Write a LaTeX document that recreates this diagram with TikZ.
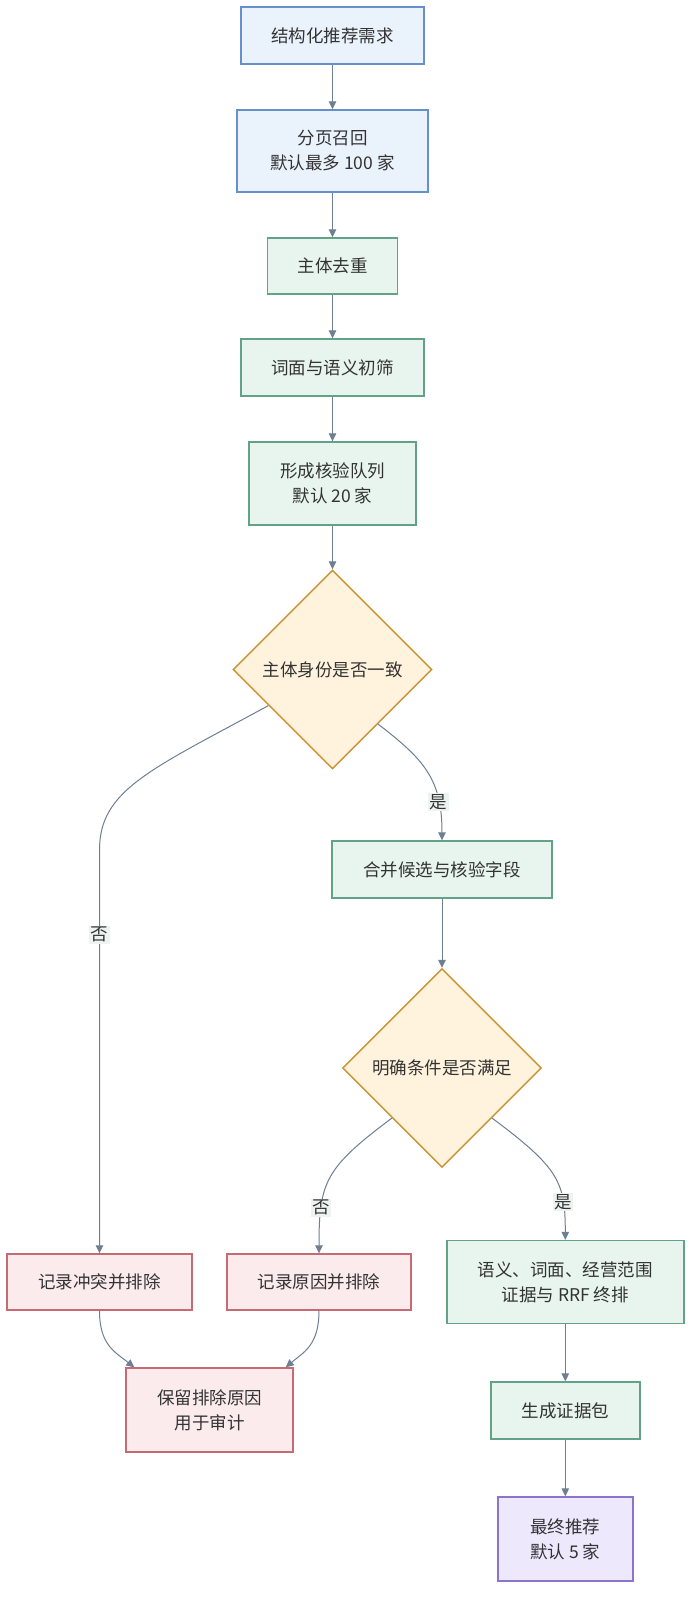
\documentclass[tikz,border=0pt]{standalone}
\usepackage{fontspec}
\setmainfont{Noto Sans CJK SC}
\usetikzlibrary{arrows.meta, shapes.geometric, positioning, calc}
\definecolor{inkgray}{HTML}{333333}
\definecolor{flowgray}{HTML}{6E7F91}
\definecolor{lblbg}{HTML}{EDF3F0}
\definecolor{bluefill}{HTML}{EAF2FC}
\definecolor{blueline}{HTML}{6690CC}
\definecolor{greenfill}{HTML}{E8F5EF}
\definecolor{greenline}{HTML}{62A287}
\definecolor{yellowfill}{HTML}{FFF3DD}
\definecolor{yellowline}{HTML}{C99232}
\definecolor{redfill}{HTML}{FBEBEC}
\definecolor{redline}{HTML}{C66A74}
\definecolor{purplefill}{HTML}{EEE8FD}
\definecolor{purpleline}{HTML}{8E73CC}

\begin{document}
\begin{tikzpicture}[x=1pt, y=-1pt,
    every node/.style={font=\fontsize{17.5}{25}\selectfont, text=inkgray, align=center},
    card/.style={rectangle, line width=1.4pt, inner sep=0pt},
    bluebox/.style={card, draw=blueline, fill=bluefill},
    greenbox/.style={card, draw=greenline, fill=greenfill},
    redbox/.style={card, draw=redline, fill=redfill},
    purplebox/.style={card, draw=purpleline, fill=purplefill},
    decision/.style={diamond, aspect=1, draw=yellowline, fill=yellowfill, line width=1.4pt,
      inner sep=0pt, minimum width=199pt, minimum height=199pt},
    flow/.style={draw=flowgray, line width=1pt, -{Triangle[length=8pt, width=7.5pt]}},
    edgelbl/.style={fill=lblbg, inner sep=1.5pt}]

    % page
    \fill[white] (0,0) rectangle (700,1607);
    \useasboundingbox (0,0) rectangle (700,1607);

    % main column
    \node[bluebox, minimum width=183pt, minimum height=57pt] (req) at (332.5,35.5) {结构化推荐需求};
    \node[bluebox, minimum width=191pt, minimum height=82pt] (recall) at (332.5,151) {分页召回\\默认最多 100 家};
    \node[greenbox, minimum width=130pt, minimum height=56pt] (dedup) at (332.5,266) {主体去重};
    \node[greenbox, minimum width=183pt, minimum height=57pt] (prescreen) at (332.5,367.5) {词面与语义初筛};
    \node[greenbox, minimum width=167pt, minimum height=83pt] (queue) at (332.5,483.5) {形成核验队列\\默认 20 家};

    % checks
    \node[decision] (idchk) at (332.5,669.5) {主体身份是否一致};
    \node[greenbox, minimum width=220pt, minimum height=57pt] (merge) at (442,869.5) {合并候选与核验字段};
    \node[decision] (condchk) at (442,1068) {明确条件是否满足};

    % rejected
    \node[redbox, minimum width=185pt, minimum height=56pt] (conflict) at (99.5,1282) {记录冲突并排除};
    \node[redbox, minimum width=184pt, minimum height=56pt] (reason) at (319,1282) {记录原因并排除};
    \node[redbox, minimum width=167pt, minimum height=84pt] (keep) at (209.5,1410) {保留排除原因\\用于审计};

    % accepted
    \node[greenbox, minimum width=237pt, minimum height=83pt] (rank) at (565.3,1282) {语义、词面、经营范围\\证据与 RRF 终排};
    \node[greenbox, minimum width=149pt, minimum height=57pt] (pack) at (565.3,1410.5) {生成证据包};
    \node[purplebox, minimum width=135pt, minimum height=84pt] (final) at (565.3,1539) {最终推荐\\默认 5 家};

    % straight connectors
    \foreach \a/\b in {req/recall, recall/dedup, dedup/prescreen, prescreen/queue,
                       queue/idchk, merge/condchk, rank/pack, pack/final}{
      \draw[flow] (\a) -- (\b);
    }

    % branch: identity
    \coordinate (idno) at ($(idchk.west)!0.36!(idchk.south)$);
    \coordinate (idyes) at ($(idchk.east)!0.545!(idchk.south)$);
    \coordinate (nobend) at (99.5,850);
    \draw[flow] (idno) .. controls (150,770) and (99.5,790) .. (nobend)
      -- node[edgelbl, pos=0.21] {否} (conflict.north);
    \draw[flow] (idyes) .. controls (425,760) and (442,780) .. node[edgelbl, pos=0.75] {是} (merge.north);

    % branch: conditions
    \draw[flow] (condchk.south west) .. controls (325,1168) and (319,1182) .. node[edgelbl, pos=0.74] {否} (reason.north);
    \draw[flow] (condchk.south east) .. controls (559,1168) and (565.3,1182) .. node[edgelbl, pos=0.74] {是} (rank.north);

    % audit trail
    \draw[flow] (conflict.south) .. controls (99.5,1345) and (115,1352) .. ($(keep.north west)+(9,0)$);
    \draw[flow] (reason.south) .. controls (319,1345) and (304,1352) .. ($(keep.north east)+(-8,0)$);

\end{tikzpicture}
\end{document}
